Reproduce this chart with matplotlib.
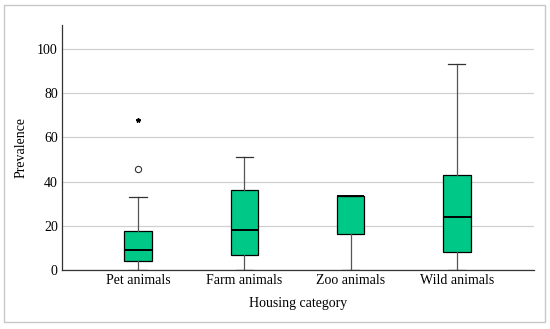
import matplotlib.pyplot as plt
from matplotlib.patches import Rectangle

# Box plot summary
categories = ["Pet animals", "Farm animals", "Zoo animals", "Wild animals"]
whisker_low = [0, 0, 0, 0]
q1 = [4.2, 6.6, 16.3, 8.0]
median = [9.0, 18.0, 33.3, 24.0]
q3 = [17.6, 36.2, 33.3, 42.8]
whisker_high = [33.2, 51.0, 33.3, 93.2]
outliers = [[45.5], [], [], []]
extremes = [[68.0], [], [], []]

box_color = "#00C987"

plt.rcParams["font.family"] = ["Liberation Serif", "DejaVu Serif"]

fig = plt.figure(figsize=(5.5, 3.29), dpi=100)
ax = fig.add_axes([0.1127, 0.1793, 0.8583, 0.7447])

stats = []
for i, name in enumerate(categories):
    stats.append({
        "label": name,
        "whislo": whisker_low[i],
        "q1": q1[i],
        "med": median[i],
        "q3": q3[i],
        "whishi": whisker_high[i],
        "fliers": outliers[i],
    })

positions = list(range(1, len(categories) + 1))
ax.bxp(
    stats,
    positions=positions,
    widths=0.255,
    patch_artist=True,
    showfliers=True,
    boxprops=dict(facecolor=box_color, edgecolor="black", linewidth=0.9),
    medianprops=dict(color="black", linewidth=1.4),
    whiskerprops=dict(color="#555555", linewidth=0.9),
    capprops=dict(color="#333333", linewidth=0.9),
    capwidths=0.16,
    flierprops=dict(marker="o", markersize=4.5, markerfacecolor="white",
                    markeredgecolor="#333333", markeredgewidth=0.8),
    zorder=3,
)

# extreme values drawn as stars
for pos, vals in zip(positions, extremes):
    if vals:
        ax.plot([pos] * len(vals), vals, linestyle="none", marker="*",
                markersize=3.2, color="black", zorder=4)

ax.set_xlim(0.285, 4.725)
ax.set_ylim(0, 110.9)
ax.set_yticks([0, 20, 40, 60, 80, 100])
ax.yaxis.grid(True, color="#d0d0d0", linewidth=0.9, zorder=0)
ax.set_axisbelow(True)
ax.tick_params(axis="both", length=0, labelsize=10, pad=3)
ax.set_xticks(positions)
ax.set_xticklabels(categories)

ax.spines["top"].set_visible(False)
ax.spines["right"].set_visible(False)
ax.spines["left"].set_color("#333333")
ax.spines["bottom"].set_color("#333333")
ax.spines["left"].set_linewidth(0.9)
ax.spines["bottom"].set_linewidth(0.9)

ax.set_ylabel("Prevalence", fontsize=10, labelpad=7)
ax.set_xlabel("Housing category", fontsize=10, labelpad=7)

# light frame around the whole chart
fig.patches.append(Rectangle((4 / 550, 7 / 329), 541 / 550, 317 / 329,
                             transform=fig.transFigure, fill=False,
                             edgecolor="#c8c8c8", linewidth=1.0))

fig.savefig("out.png", dpi=100)
